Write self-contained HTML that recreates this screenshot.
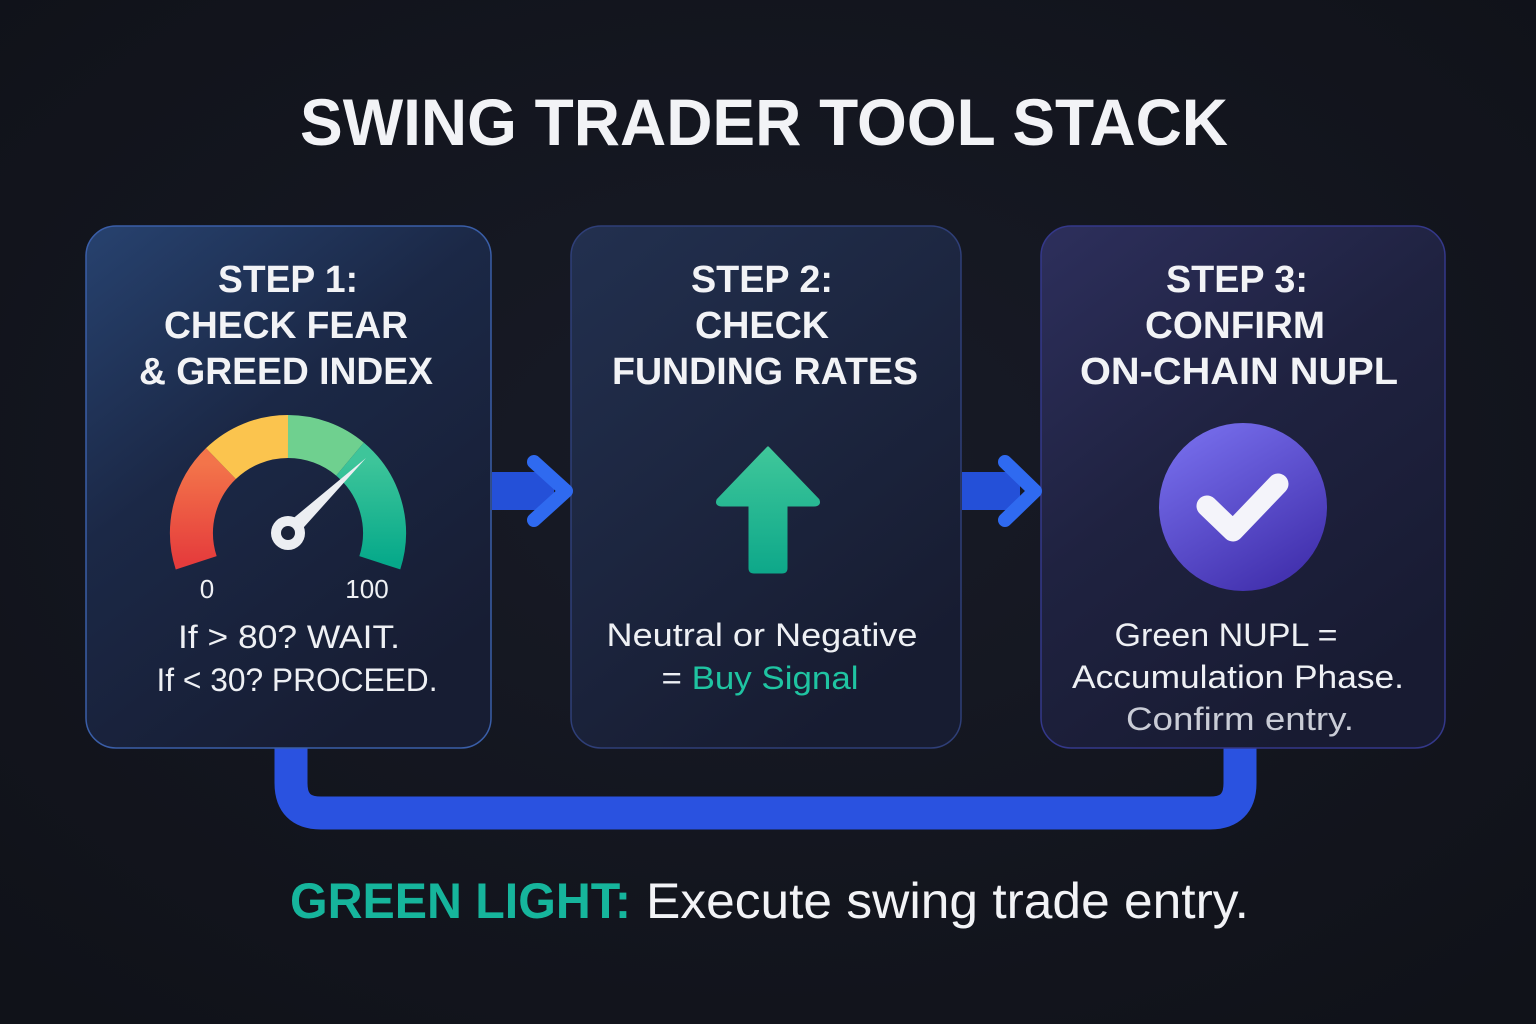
<!DOCTYPE html>
<html><head><meta charset="utf-8"><style>
html,body{margin:0;padding:0;background:#12141d;}
svg{display:block}
text{font-family:"Liberation Sans",sans-serif;}
</style></head><body>
<svg width="1536" height="1024" viewBox="0 0 1536 1024" xmlns="http://www.w3.org/2000/svg">
<defs>
<radialGradient id="bg" cx="50%" cy="45%" r="70%"><stop offset="0" stop-color="#181b27"/><stop offset="1" stop-color="#101219"/></radialGradient>
<linearGradient id="c1" x1="0" y1="0" x2="0.6" y2="1"><stop offset="0" stop-color="#27426f"/><stop offset="0.45" stop-color="#1b2846"/><stop offset="1" stop-color="#171d33"/></linearGradient>
<linearGradient id="c2" x1="0" y1="0" x2="0.6" y2="1"><stop offset="0" stop-color="#22304f"/><stop offset="1" stop-color="#171c31"/></linearGradient>
<linearGradient id="c3" x1="0" y1="0" x2="0.6" y2="1"><stop offset="0" stop-color="#2d2f5c"/><stop offset="0.5" stop-color="#1f2240"/><stop offset="1" stop-color="#181b32"/></linearGradient>
<linearGradient id="up" x1="0" y1="0" x2="0" y2="1"><stop offset="0" stop-color="#3fc79a"/><stop offset="1" stop-color="#0ea88a"/></linearGradient>
<linearGradient id="chk" x1="0" y1="0" x2="0.6" y2="1"><stop offset="0" stop-color="#7c74f2"/><stop offset="1" stop-color="#4433b0"/></linearGradient>
<linearGradient id="red" x1="0" y1="1" x2="0" y2="0"><stop offset="0" stop-color="#e53c3c"/><stop offset="1" stop-color="#f3744a"/></linearGradient>
<linearGradient id="teal" x1="0" y1="0" x2="0" y2="1"><stop offset="0" stop-color="#3ec59a"/><stop offset="1" stop-color="#06a98a"/></linearGradient>
</defs>
<rect width="1536" height="1024" fill="url(#bg)"/>
<text x="764" y="145" text-anchor="middle" font-size="66" font-weight="bold" fill="#f2f3f6" textLength="928" lengthAdjust="spacingAndGlyphs">SWING TRADER TOOL STACK</text>

<!-- loop connector -->
<path d="M291 740 V783 Q291 813 321 813 H1210 Q1240 813 1240 783 V740" fill="none" stroke="#2a52e0" stroke-width="33"/>

<!-- cards -->
<rect x="86" y="226" width="405" height="522" rx="30" fill="url(#c1)" stroke="#3a5ea8" stroke-width="1.5"/>
<rect x="571" y="226" width="390" height="522" rx="30" fill="url(#c2)" stroke="#2f3f78" stroke-width="1.5"/>
<rect x="1041" y="226" width="404" height="522" rx="30" fill="url(#c3)" stroke="#34388a" stroke-width="1.5"/>

<!-- arrows between -->
<rect x="492" y="472" width="62" height="38" fill="#2450d8"/>
<polyline points="534,462 566,491 534,520" fill="none" stroke="#2f6af0" stroke-width="14" stroke-linecap="round" stroke-linejoin="round"/>
<rect x="962" y="472" width="58" height="38" fill="#2450d8"/>
<polyline points="1005,462 1035,491 1005,520" fill="none" stroke="#2f6af0" stroke-width="14" stroke-linecap="round" stroke-linejoin="round"/>

<g font-weight="bold" font-size="38" fill="#f2f3f6" text-anchor="middle">
<text x="288" y="292" textLength="140" lengthAdjust="spacingAndGlyphs">STEP 1:</text>
<text x="286" y="338" textLength="244" lengthAdjust="spacingAndGlyphs">CHECK FEAR</text>
<text x="286" y="384" textLength="294" lengthAdjust="spacingAndGlyphs">&amp; GREED INDEX</text>
<text x="762" y="292" textLength="142" lengthAdjust="spacingAndGlyphs">STEP 2:</text>
<text x="762" y="338" textLength="134" lengthAdjust="spacingAndGlyphs">CHECK</text>
<text x="765" y="384" textLength="306" lengthAdjust="spacingAndGlyphs">FUNDING RATES</text>
<text x="1237" y="292" textLength="142" lengthAdjust="spacingAndGlyphs">STEP 3:</text>
<text x="1235" y="338" textLength="180" lengthAdjust="spacingAndGlyphs">CONFIRM</text>
<text x="1239" y="384" textLength="318" lengthAdjust="spacingAndGlyphs">ON-CHAIN NUPL</text>
</g>

<!-- gauge -->
<g fill="none" stroke-width="43">
<path d="M196.2 562.8 A96.5 96.5 0 0 1 220.9 463.6" stroke="url(#red)"/>
<path d="M220.9 463.6 A96.5 96.5 0 0 1 288 436.5" stroke="#fbc44e"/>
<path d="M288 436.5 A96.5 96.5 0 0 1 350 459.1" stroke="#6fd08f"/>
<path d="M350 459.1 A96.5 96.5 0 0 1 379.8 562.8" stroke="url(#teal)"/>
</g>
<polygon points="293.5,538.8 282.5,527.2 366,458" fill="#eceef2"/>
<circle cx="288" cy="533" r="17" fill="#eceef2"/>
<circle cx="288" cy="533" r="7" fill="#1a2238"/>
<text x="207" y="598" text-anchor="middle" font-size="26" fill="#eef0f4">0</text>
<text x="367" y="598" text-anchor="middle" font-size="26" fill="#eef0f4">100</text>

<!-- up arrow -->
<path d="M768 448 L818 500 Q820 505 814 505 L786 505 L786 568 Q786 572 782 572 L754 572 Q750 572 750 568 L750 505 L722 505 Q716 505 718 500 Z" fill="url(#up)" stroke="url(#up)" stroke-width="3" stroke-linejoin="round"/>

<!-- check -->
<circle cx="1243" cy="507" r="84" fill="url(#chk)"/>
<polyline points="1207,506 1233,531 1278,484" fill="none" stroke="#f4f4fa" stroke-width="21" stroke-linecap="round" stroke-linejoin="round"/>

<g font-size="32" fill="#eef0f4" text-anchor="middle">
<text x="289" y="648" textLength="222" lengthAdjust="spacingAndGlyphs">If &gt; 80? WAIT.</text>
<text x="297" y="691" textLength="281" lengthAdjust="spacingAndGlyphs">If &lt; 30? PROCEED.</text>
<text x="762" y="646" textLength="311" lengthAdjust="spacingAndGlyphs">Neutral or Negative</text>
<text x="760" y="689" textLength="197" lengthAdjust="spacingAndGlyphs">= <tspan fill="#1fc4a2">Buy Signal</tspan></text>
<text x="1226" y="646" textLength="223" lengthAdjust="spacingAndGlyphs">Green NUPL =</text>
<text x="1238" y="688" textLength="332" lengthAdjust="spacingAndGlyphs">Accumulation Phase.</text>
<text x="1240" y="730" textLength="228" lengthAdjust="spacingAndGlyphs" fill="#c9ccd6">Confirm entry.</text>
</g>

<text x="290" y="918" font-size="50" font-weight="bold" fill="#16b59c" textLength="341" lengthAdjust="spacingAndGlyphs">GREEN LIGHT:</text>
<text x="646" y="918" font-size="50" fill="#f2f3f6" textLength="603" lengthAdjust="spacingAndGlyphs">Execute swing trade entry.</text>
</svg>
</body></html>
